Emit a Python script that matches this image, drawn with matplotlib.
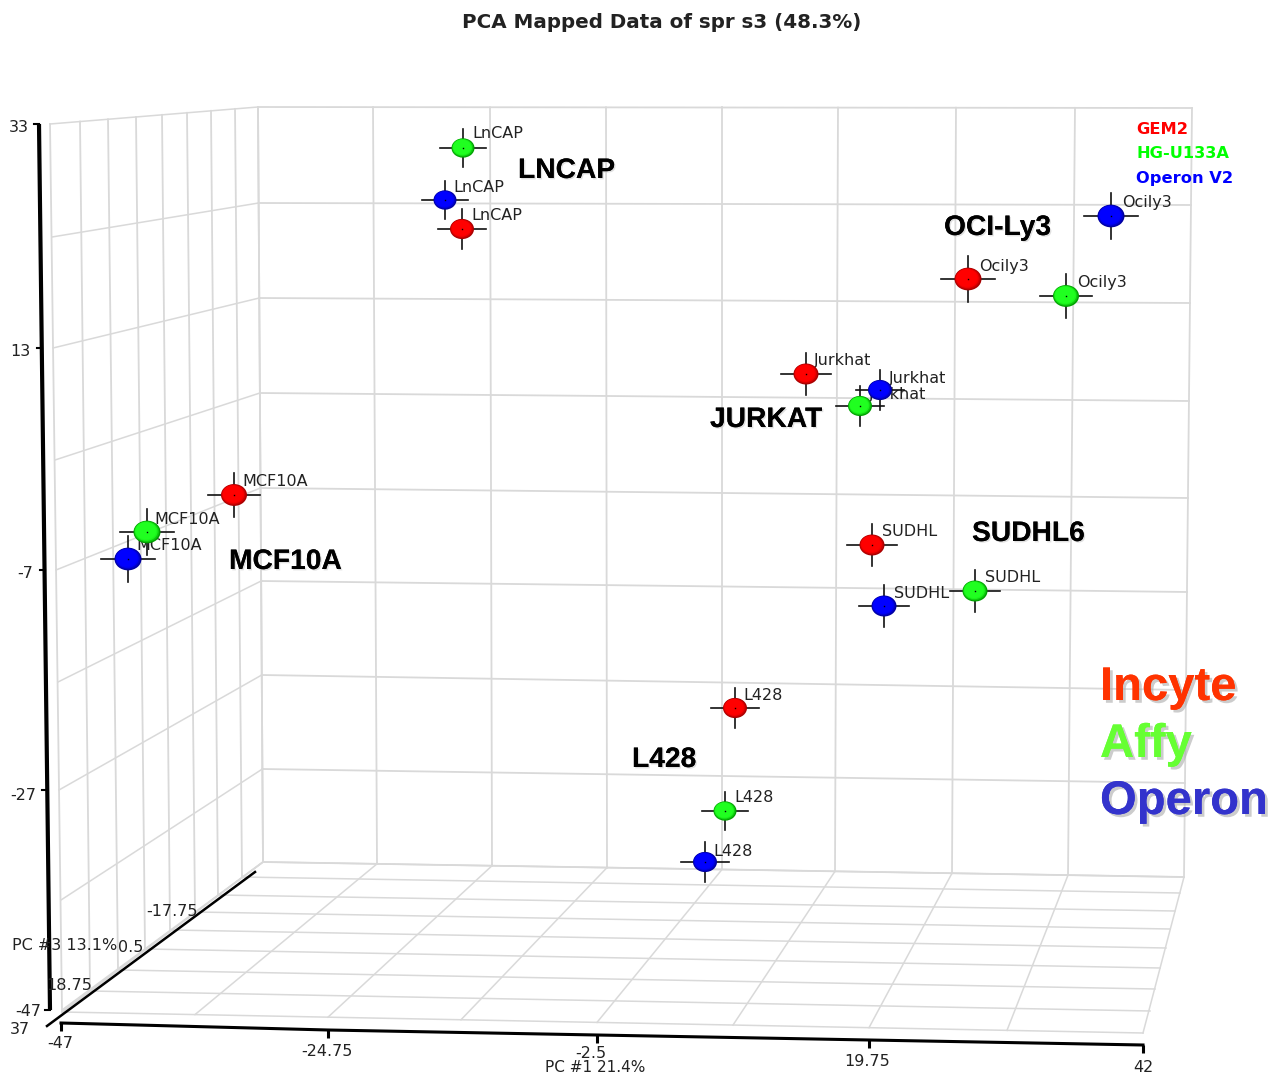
import numpy as np
import matplotlib
matplotlib.use('Agg')
import matplotlib.pyplot as plt
import matplotlib.patheffects as pe
from matplotlib.colors import to_rgb
from matplotlib.patches import Ellipse

cell_lines = ['LnCAP', 'Ocily3', 'Jurkhat', 'MCF10A', 'SUDHL', 'L428']

red_x = [462, 968, 806, 234, 872, 735]
red_y = [229, 279, 374, 495, 545, 708]
red_w = [24, 27, 25, 26, 25, 24]
green_x = [463, 1066, 860, 147, 975, 725]
green_y = [148, 296, 406, 532, 591, 811]
green_w = [23, 26, 24, 27, 25, 23]
blue_x = [445, 1111, 880, 128, 884, 705]
blue_y = [200, 216, 390, 559, 606, 862]
blue_w = [23, 27, 24, 27, 25, 24]

red_label_x = [471, 979, 814, 242, 882, 743]
red_label_y = [216, 266, 361, 481, 532, 695]
green_label_x = [472, 1077, 869, 154, 985, 734]
green_label_y = [134, 283, 394, 519, 578, 798]
blue_label_x = [453, 1122, 889, 136, 894, 713]
blue_label_y = [188, 202, 378, 546, 594, 851]

group_names = ['LNCAP', 'OCI-Ly3', 'JURKAT', 'SUDHL6', 'MCF10A', 'L428']
group_x = [518, 944, 710, 972, 229, 632]
group_y = [171, 228, 420, 534, 562, 760]

# grid of the box
back_top_x = [258, 373, 490, 606, 722, 838, 956, 1075, 1192]
back_bot_x = [263, 377, 492, 607, 722, 835, 952, 1068, 1184]
back_left_y = [107, 203, 298, 393, 488, 581, 675, 769, 862]
back_right_y = [108, 205, 303, 401, 498, 592, 690, 783, 877]
side_top_x = [50, 80, 108, 136, 162, 187, 211, 235, 258]
side_bot_x = [62, 90, 118, 145, 170, 195, 218, 242, 263]
side_front_x = [50, 52, 53, 55, 56, 58, 59, 61, 62]
side_front_y = [124, 237, 348, 460, 570, 682, 790, 900, 1010]
floor_front_x = [62, 195, 328, 461, 597, 733, 869, 1007, 1143]
floor_right_y = [877, 893, 911, 929, 948, 968, 989, 1011, 1033]
floor_right_x = [1184, 1180, 1175, 1170, 1166, 1160, 1155, 1150, 1143]
floor_left_y = [862, 877, 895, 912, 930, 949, 970, 991, 1012]
floor_left_x = [263, 242, 219, 196, 172, 146, 119, 90, 62]

y_ticks = ['33', '13', '-7', '-27', '-47']
y_tick_x = [29, 31, 33, 36, 41]
y_tick_y = [128, 352, 574, 795, 1012]
y_mark_y = [124, 348, 570, 790, 1010]
x_ticks = ['-47', '-24.75', '-2.5', '19.75', '42']
x_tick_x = [60, 327, 591, 867, 1143]
x_tick_y = [1044, 1051, 1054, 1062, 1068]
x_mark_x = [61, 328, 597, 869, 1143]
x_mark_y = [1023, 1030, 1035, 1040, 1045]
z_ticks = ['-17.75', '0.5', '18.75', '37']
z_tick_x = [146, 118, 46, 10]
z_tick_y = [911, 947, 986, 1030]

legend_names = ['GEM2', 'HG-U133A', 'Operon V2']
legend_colors = ['#ff0000', '#00ff00', '#0000ff']
legend_y = [130, 154, 178]

vendor_names = ['Incyte', 'Affy', 'Operon']
vendor_colors = ['#ff3300', '#66ff33', '#3333cc']
vendor_y = [688, 745, 802]

grid_col = '#d9d9d9'
text_col = '#222222'
small_font = 11.5

fig = plt.figure(figsize=(12.68, 10.74), dpi=100)
ax = fig.add_axes([0, 0, 1, 1])
ax.set_xlim(0, 1268)
ax.set_ylim(1074, 0)
ax.axis('off')

# back wall
for i in range(9):
    ax.plot([back_top_x[i], back_bot_x[i]],
            [np.interp(back_top_x[i], [258, 1192], [107, 108]),
             np.interp(back_bot_x[i], [263, 1184], [862, 877])],
            color=grid_col, lw=1.3, zorder=1)
    ax.plot([258 + 5 * i / 8, 1192 - 8 * i / 8], [back_left_y[i], back_right_y[i]],
            color=grid_col, lw=1.3, zorder=1)

# left wall
for i in range(9):
    ax.plot([side_top_x[i], side_bot_x[i]],
            [np.interp(side_top_x[i], [50, 258], [124, 107]),
             np.interp(side_bot_x[i], [62, 263], [1010, 862])],
            color=grid_col, lw=1.3, zorder=1)
    ax.plot([side_front_x[i], 258 + 5 * i / 8], [side_front_y[i], back_left_y[i]],
            color=grid_col, lw=1.1, zorder=1)

# floor
for i in range(9):
    ax.plot([back_bot_x[i], floor_front_x[i]],
            [np.interp(back_bot_x[i], [263, 1184], [862, 877]),
             np.interp(floor_front_x[i], [62, 1143], [1012, 1033])],
            color=grid_col, lw=1.1, zorder=1)
    ax.plot([floor_left_x[i], floor_right_x[i]], [floor_left_y[i], floor_right_y[i]],
            color=grid_col, lw=1.1, zorder=1)

# black axes
ax.plot([39, 50], [124, 1010], color='black', lw=3, zorder=2, solid_capstyle='butt')
for yy in y_mark_y:
    xx = np.interp(yy, [124, 1010], [39, 50])
    ax.plot([xx - 5, xx], [yy, yy], color='black', lw=1.5, zorder=2)
ax.plot(x_mark_x, x_mark_y, color='black', lw=2.2, zorder=2)
for i in range(5):
    ax.plot([x_mark_x[i], x_mark_x[i]], [x_mark_y[i], x_mark_y[i] + 8],
            color='black', lw=2.2, zorder=2, solid_capstyle='butt')
ax.plot([47, 255], [1026, 872], color='black', lw=1.8, zorder=2)
ax.plot([62, 263], [1012, 862], color=grid_col, lw=1.2, zorder=1)

# tick labels
for name, xx, yy in zip(y_ticks, y_tick_x, y_tick_y):
    ax.text(xx, yy, name, ha='right', va='center', fontsize=small_font, color=text_col, zorder=3)
for name, xx, yy in zip(x_ticks, x_tick_x, x_tick_y):
    ax.text(xx, yy, name, ha='center', va='center', fontsize=small_font, color=text_col, zorder=3)
for name, xx, yy in zip(z_ticks, z_tick_x, z_tick_y):
    ax.text(xx, yy, name, ha='left', va='center', fontsize=small_font, color=text_col, zorder=3)
ax.text(12, 946, 'PC #3 13.1%', ha='left', va='center', fontsize=small_font, color=text_col, zorder=3)
ax.text(595, 1067, 'PC #1 21.4%', ha='center', va='center', fontsize=11, color=text_col, zorder=3)

ax.text(662, 22, 'PCA Mapped Data of spr s3 (48.3%)', ha='center', va='center',
        fontsize=14.3, fontweight='bold', color='#222222')


def draw_spheres(xs, ys, ws, labels_x, labels_y, edge, light, z):
    edge = np.array(to_rgb(edge))
    light = np.array(to_rgb(light))
    for i in range(len(xs)):
        w = ws[i]
        h = w * 0.84
        x, y = xs[i], ys[i]
        ax.plot([x - w, x + w], [y, y], color='#111111', lw=1.2, zorder=z)
        ax.plot([x, x], [y - h, y + h], color='#111111', lw=1.2, zorder=z)
        ax.text(labels_x[i], labels_y[i], cell_lines[i], ha='left', va='center',
                fontsize=small_font, color=text_col, zorder=4)
        # shaded ball, dark on the lower right and bright up left
        for k in np.linspace(0, 1, 10):
            col = edge + (light - edge) * min(1, k * 4)
            ax.add_patch(Ellipse((x - w * 0.12 * k, y - h * 0.14 * k),
                                 w * (1 - 0.7 * k), h * (1 - 0.7 * k),
                                 color=tuple(col), lw=0, zorder=z + 1))
        ax.plot([x], [y], marker='s', ms=1, mew=0, color='black', zorder=z + 2)


draw_spheres(red_x, red_y, red_w, red_label_x, red_label_y, '#a80000', '#ff0000', 5)
draw_spheres(blue_x, blue_y, blue_w, blue_label_x, blue_label_y, '#0000a0', '#0000ff', 8)
draw_spheres(green_x, green_y, green_w, green_label_x, green_label_y, '#00a000', '#20ff20', 11)

# group names
group_shadow = [pe.withSimplePatchShadow(offset=(1, -1), shadow_rgbFace='#cccccc', alpha=0.6), pe.Normal()]
for name, xx, yy in zip(group_names, group_x, group_y):
    ax.text(xx, yy, name, ha='left', va='center', fontsize=20.3, fontweight='bold',
            family='Liberation Sans', color='black', zorder=15, path_effects=group_shadow)

# legends
for name, col, yy in zip(legend_names, legend_colors, legend_y):
    ax.text(1136, yy, name, ha='left', va='center', fontsize=11.7, fontweight='bold',
            family='DejaVu Sans', color=col, zorder=15)
vendor_shadow = [pe.withSimplePatchShadow(offset=(2, -2), shadow_rgbFace='#aaaaaa', alpha=0.6), pe.Normal()]
for name, col, yy in zip(vendor_names, vendor_colors, vendor_y):
    ax.text(1100, yy, name, ha='left', va='center', fontsize=34, fontweight='bold',
            family='Liberation Sans', color=col, zorder=15, path_effects=vendor_shadow)

fig.savefig('out.png', dpi=100)
